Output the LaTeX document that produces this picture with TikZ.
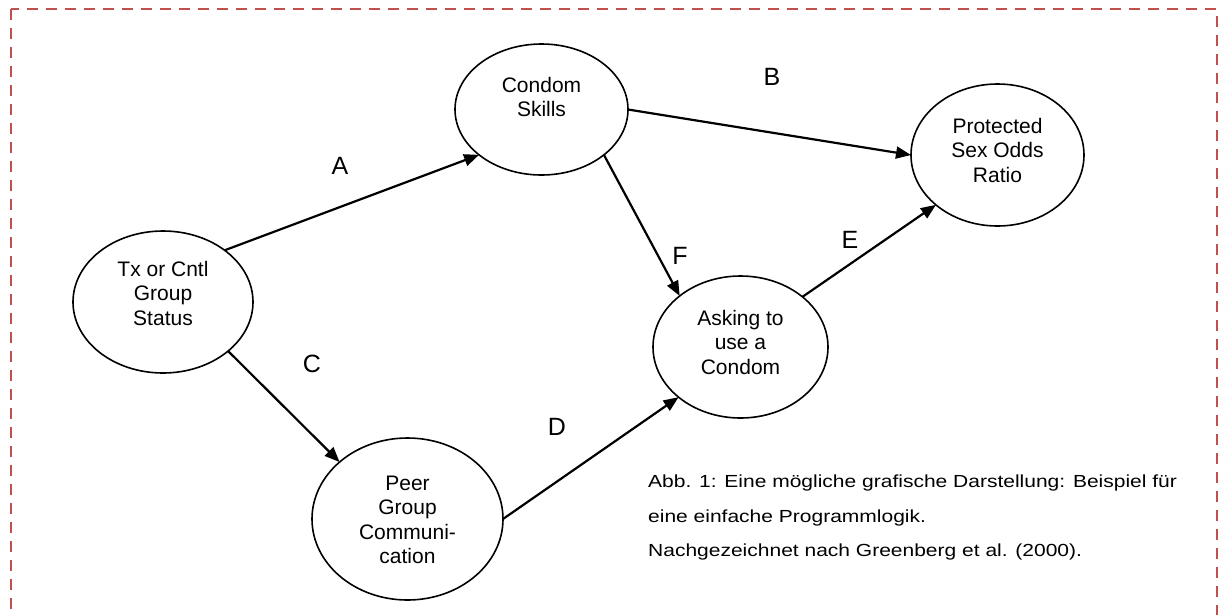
\documentclass[tikz,border=0pt]{standalone}
\usepackage{fontspec}
\setmainfont{Liberation Sans}
\newfontfamily\capfont{Liberation Sans}[FakeStretch=1.2]
\usetikzlibrary{arrows.meta,shapes.geometric}
\definecolor{bordred}{RGB}{192,80,77}
\tikzset{
  ell/.style={ellipse, draw, line width=1.6pt, inner sep=0pt, outer sep=0pt},
  etxt/.style={align=center, inner sep=0pt, font=\fontsize{21}{24.5}\selectfont},
  lbl/.style={inner sep=0pt, font=\fontsize{25}{30}\selectfont},
  captxt/.style={anchor=base west, inner sep=0pt, font=\capfont\fontsize{17.5}{20}\selectfont},
  conn/.style={line width=2.2pt, -{Triangle[length=15pt,width=12pt]}},
  bord/.style={draw=bordred, line width=2.4pt, dash pattern=on 11pt off 8pt}
}
\begin{document}
\begin{tikzpicture}[x=1pt,y=-1pt]
\useasboundingbox (0,0) rectangle (1219,614);
\begin{scope}
\clip (0,0) rectangle (1219,614);
\draw[bord] (11,9) rectangle (1217,650);
\end{scope}
% ellipses
\node[ell, minimum width=180pt, minimum height=142pt] (tx) at (163,302) {};
\node[ell, minimum width=173pt, minimum height=131pt] (cs) at (541.5,109.5) {};
\node[ell, minimum width=173pt, minimum height=142pt] (ps) at (997.5,155) {};
\node[ell, minimum width=175pt, minimum height=142pt] (ask) at (740.5,347) {};
\node[ell, minimum width=191pt, minimum height=162pt] (peer) at (407.5,519) {};
% ellipse texts
\node[etxt] (txt-tx) at (163,293) {Tx or Cntl\\Group\\Status};
\node[etxt] (txt-cs) at (541.5,97) {Condom\\Skills};
\node[etxt] (txt-ps) at (997.5,150) {Protected\\Sex Odds\\Ratio};
\node[etxt] (txt-ask) at (740.5,342) {Asking to\\use a\\Condom};
\node[etxt] (txt-peer) at (407.5,520) {Peer\\Group\\Communi-\\cation};
% connectors
\draw[conn] (tx.40) -- (cs.216.5);
\draw[conn] (tx.-37.6) -- (peer.140.2);
\draw[conn] (peer.0) -- (ask.219.7);
\draw[conn] (cs.-36.5) -- (ask.140.2);
\draw[conn] (cs.0) -- (ps.180);
\draw[conn] (ask.39.8) -- (ps.219.3);
% labels
\node[lbl] (la) at (340,166) {A};
\node[lbl] (lb) at (772,77) {B};
\node[lbl] (lc) at (312,364) {C};
\node[lbl] (ld) at (557,427) {D};
\node[lbl] (le) at (850,240) {E};
\node[lbl] (lf) at (680,256) {F};
% caption
\node[captxt] (cap1) at (648,487) {Abb. 1: Eine mögliche grafische Darstellung: Beispiel für};
\node[captxt] (cap2) at (648,522) {eine einfache Programmlogik.};
\node[captxt] (cap3) at (648,556) {Nachgezeichnet nach Greenberg et al. (2000).};
\end{tikzpicture}
\end{document}
